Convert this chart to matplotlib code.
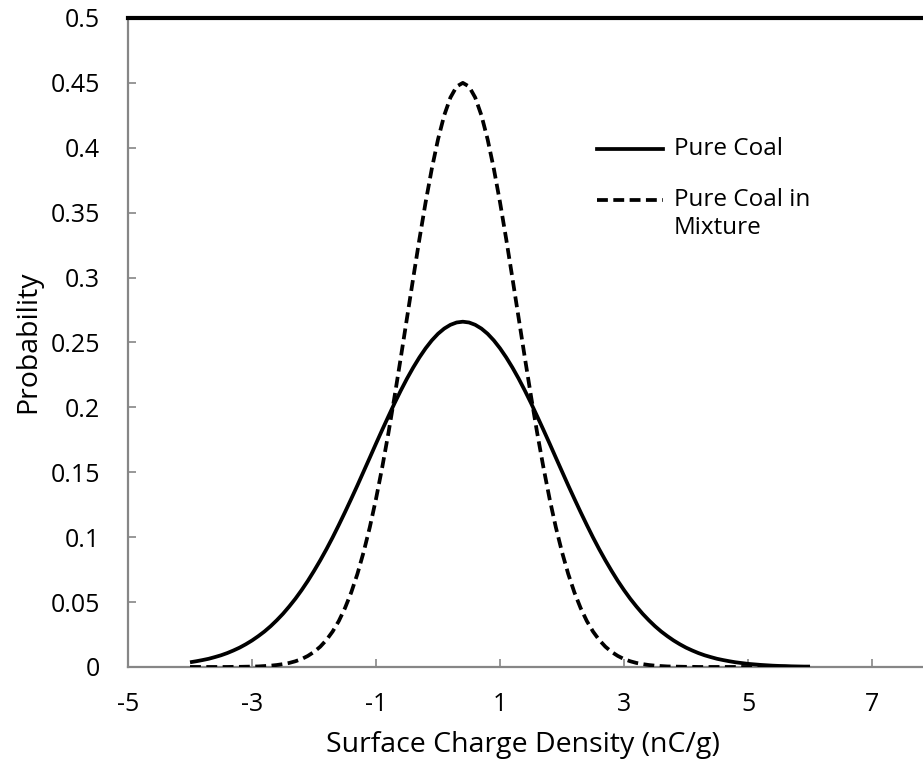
import matplotlib
matplotlib.use("Agg")
import matplotlib.pyplot as plt

plt.rcParams['font.family'] = ['Open Sans', 'DejaVu Sans']
plt.rcParams['axes.unicode_minus'] = False

# Surface charge density grid (nC/g)
charge = [-4.0, -3.9, -3.8, -3.7, -3.6, -3.5, -3.4, -3.3, -3.2, -3.1,
          -3.0, -2.9, -2.8, -2.7, -2.6, -2.5, -2.4, -2.3, -2.2, -2.1,
          -2.0, -1.9, -1.8, -1.7, -1.6, -1.5, -1.4, -1.3, -1.2, -1.1,
          -1.0, -0.9, -0.8, -0.7, -0.6, -0.5, -0.4, -0.3, -0.2, -0.1,
          0.0, 0.1, 0.2, 0.3, 0.4, 0.5, 0.6, 0.7, 0.8, 0.9,
          1.0, 1.1, 1.2, 1.3, 1.4, 1.5, 1.6, 1.7, 1.8, 1.9,
          2.0, 2.1, 2.2, 2.3, 2.4, 2.5, 2.6, 2.7, 2.8, 2.9,
          3.0, 3.1, 3.2, 3.3, 3.4, 3.5, 3.6, 3.7, 3.8, 3.9,
          4.0, 4.1, 4.2, 4.3, 4.4, 4.5, 4.6, 4.7, 4.8, 4.9,
          5.0, 5.1, 5.2, 5.3, 5.4, 5.5, 5.6, 5.7, 5.8, 5.9, 6.0]

pure_coal = [0.0036, 0.0044, 0.0053, 0.0063, 0.0076, 0.0090, 0.0107, 0.0127, 0.0149, 0.0175,
             0.0204, 0.0237, 0.0273, 0.0314, 0.0360, 0.0410, 0.0466, 0.0526, 0.0592, 0.0663,
             0.0740, 0.0821, 0.0907, 0.0998, 0.1094, 0.1193, 0.1295, 0.1399, 0.1506, 0.1613,
             0.1721, 0.1827, 0.1931, 0.2033, 0.2130, 0.2222, 0.2307, 0.2385, 0.2455, 0.2516,
             0.2567, 0.2607, 0.2636, 0.2654, 0.2660, 0.2654, 0.2636, 0.2607, 0.2567, 0.2516,
             0.2455, 0.2385, 0.2307, 0.2222, 0.2130, 0.2033, 0.1931, 0.1827, 0.1721, 0.1613,
             0.1506, 0.1399, 0.1295, 0.1193, 0.1094, 0.0998, 0.0907, 0.0821, 0.0740, 0.0663,
             0.0592, 0.0526, 0.0466, 0.0410, 0.0360, 0.0314, 0.0273, 0.0237, 0.0204, 0.0175,
             0.0149, 0.0127, 0.0107, 0.0090, 0.0076, 0.0063, 0.0053, 0.0044, 0.0036, 0.0030,
             0.0024, 0.0020, 0.0016, 0.0013, 0.0010, 0.0008, 0.0007, 0.0005, 0.0004, 0.0003, 0.0003]

coal_in_mixture = [0.0000, 0.0000, 0.0000, 0.0000, 0.0000, 0.0000, 0.0000, 0.0001, 0.0001, 0.0002,
                   0.0003, 0.0004, 0.0007, 0.0010, 0.0015, 0.0022, 0.0031, 0.0044, 0.0061, 0.0085,
                   0.0116, 0.0156, 0.0208, 0.0273, 0.0354, 0.0454, 0.0574, 0.0717, 0.0885, 0.1077,
                   0.1295, 0.1538, 0.1802, 0.2086, 0.2384, 0.2690, 0.2996, 0.3296, 0.3580, 0.3839,
                   0.4065, 0.4250, 0.4387, 0.4472, 0.4500, 0.4472, 0.4387, 0.4250, 0.4065, 0.3839,
                   0.3580, 0.3296, 0.2996, 0.2690, 0.2384, 0.2086, 0.1802, 0.1538, 0.1295, 0.1077,
                   0.0885, 0.0717, 0.0574, 0.0454, 0.0354, 0.0273, 0.0208, 0.0156, 0.0116, 0.0085,
                   0.0061, 0.0044, 0.0031, 0.0022, 0.0015, 0.0010, 0.0007, 0.0004, 0.0003, 0.0002,
                   0.0001, 0.0001, 0.0000, 0.0000, 0.0000, 0.0000, 0.0000, 0.0000, 0.0000, 0.0000,
                   0.0000, 0.0000, 0.0000, 0.0000, 0.0000, 0.0000, 0.0000, 0.0000, 0.0000, 0.0000, 0.0000]

x_ticks = [-5, -3, -1, 1, 3, 5, 7]
y_ticks = [0, 0.05, 0.1, 0.15, 0.2, 0.25, 0.3, 0.35, 0.4, 0.45, 0.5]
y_tick_labels = ['0', '0.05', '0.1', '0.15', '0.2', '0.25', '0.3', '0.35', '0.4', '0.45', '0.5']

fig = plt.figure(figsize=(9.23, 7.75), dpi=100)
ax = fig.add_axes([0.1387, 0.1394, 0.9404, 0.8374])

DASH = (0, (2.9, 1.45))
ax.plot(charge, pure_coal, color='black', lw=2.7, solid_capstyle='butt', zorder=3)
ax.plot(charge, coal_in_mixture, color='black', lw=2.7, linestyle=DASH,
        dash_capstyle='butt', zorder=3)

ax.set_xlim(-5, 9)
ax.set_ylim(0, 0.5)
ax.set_xticks(x_ticks)
ax.set_xticklabels([str(v) for v in x_ticks])
ax.set_yticks(y_ticks)
ax.set_yticklabels(y_tick_labels)

grey = '#868686'
for side in ('left', 'bottom'):
    ax.spines[side].set_color(grey)
    ax.spines[side].set_linewidth(1.6)
ax.spines['right'].set_visible(False)
ax.spines['top'].set_color('black')
ax.spines['top'].set_linewidth(3.0)

ax.tick_params(axis='both', direction='in', length=6, width=1.2, color=grey,
               labelsize=18, labelcolor='black')
ax.tick_params(axis='y', pad=20)
ax.tick_params(axis='x', pad=18)

ax.set_xlabel('Surface Charge Density (nC/g)', fontsize=20.5)
ax.set_ylabel('Probability', fontsize=20.5)


def ax_frac(px, py):
    """Convert figure pixel position to axes fraction."""
    fx = (px / 923 - 0.1387) / 0.9404
    fy = ((775 - py) / 775 - 0.1394) / 0.8374
    return fx, fy


ax.xaxis.set_label_coords(*ax_frac(523, 745))
ax.xaxis.label.set_va('center')
ax.yaxis.set_label_coords(*ax_frac(28, 342))
ax.yaxis.label.set_va('center')

# Legend drawn in axes coordinates
x0, y0 = ax_frac(597, 149)
x1, _ = ax_frac(663, 149)
tx, _ = ax_frac(674, 149)
ax.plot([x0, x1], [y0, y0], color='black', lw=2.7, transform=ax.transAxes, clip_on=False)
ax.text(tx, y0, 'Pure Coal', transform=ax.transAxes, fontsize=17.5, va='center', ha='left')

_, y1 = ax_frac(597, 200)
ax.plot([x0, x1], [y1, y1], color='black', lw=2.7, linestyle=DASH,
        transform=ax.transAxes, clip_on=False)
ax.text(tx, y1, 'Pure Coal in', transform=ax.transAxes, fontsize=17.5, va='center', ha='left')
_, y2 = ax_frac(674, 228)
ax.text(tx, y2, 'Mixture', transform=ax.transAxes, fontsize=17.5, va='center', ha='left')

fig.savefig('out.png', dpi=100)
